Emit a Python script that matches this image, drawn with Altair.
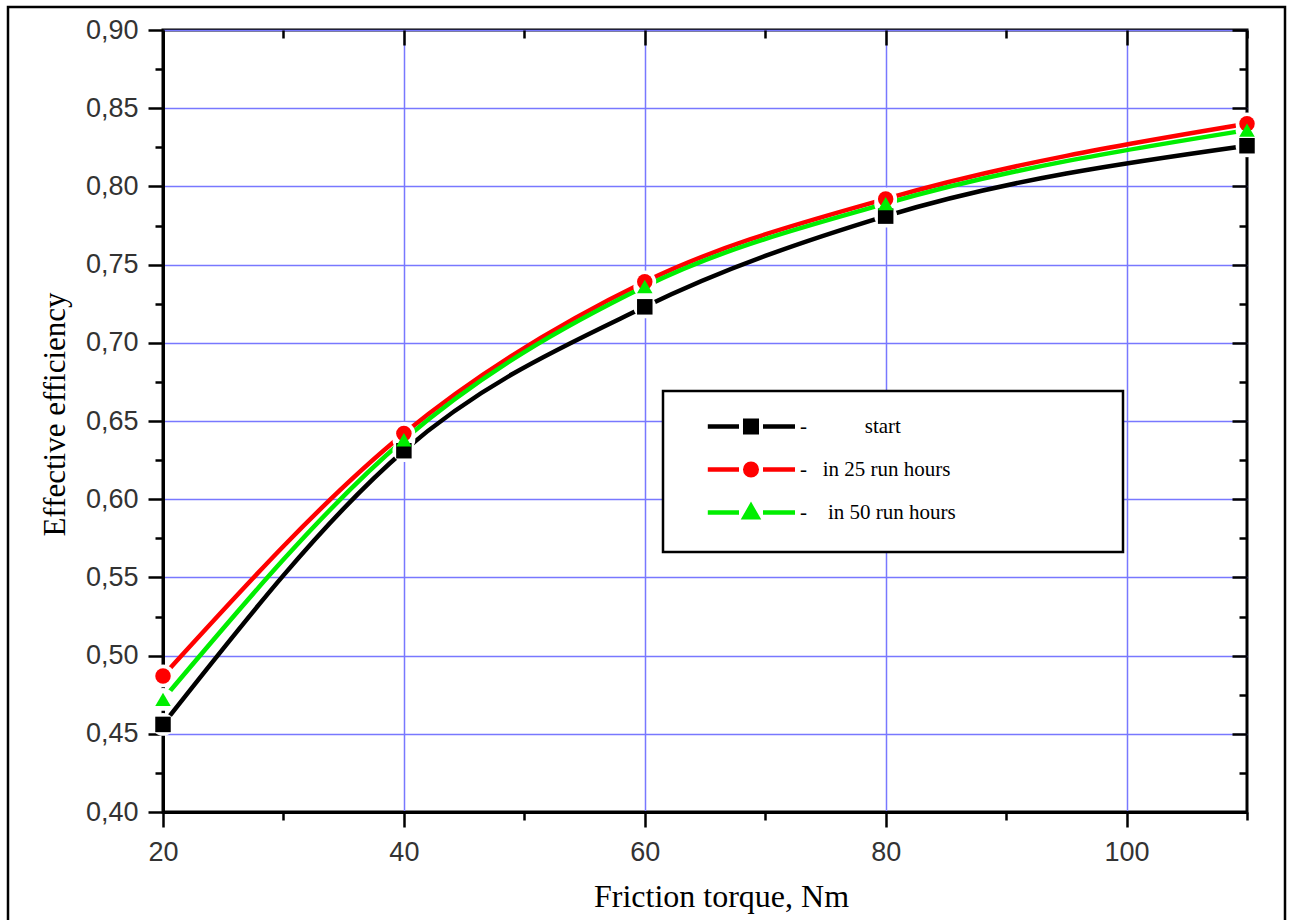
import altair as alt
import pandas as pd

# Measured effective efficiency vs. friction torque for three run-in states
torque = [20, 40, 60, 80, 110]
eff_start = [0.456, 0.631, 0.723, 0.781, 0.826]
eff_25h = [0.487, 0.642, 0.739, 0.792, 0.840]
eff_50h = [0.472, 0.638, 0.736, 0.789, 0.836]

series_names = ["start", "in 25 run hours", "in 50 run hours"]
series_colors = ["#000000", "#ff0000", "#00ee00"]
marker_shapes = ["square", "circle", "triangle-up"]

# Tick positions
x_major = [20, 40, 60, 80, 100]
x_minor = [30, 50, 70, 90, 110]
y_major = [0.40, 0.45, 0.50, 0.55, 0.60, 0.65, 0.70, 0.75, 0.80, 0.85, 0.90]
y_minor = [0.425, 0.475, 0.525, 0.575, 0.625, 0.675, 0.725, 0.775, 0.825, 0.875]

W, H = 1084, 782

rows = []
for name, col, shp, vals in zip(series_names, series_colors, marker_shapes,
                                [eff_start, eff_25h, eff_50h]):
    for t, v in zip(torque, vals):
        rows.append({"torque": t, "efficiency": v, "series": name,
                     "hex": col, "marker": shp})
df = pd.DataFrame(rows)

x_scale = alt.Scale(domain=[20, 110], nice=False, zero=False)
y_scale = alt.Scale(domain=[0.40, 0.90], nice=False, zero=False)

GRID = "#7878ff"
TICK = dict(tickColor="black", tickWidth=2.5)


def bare_axis(values, size, orient, offset=0):
    return alt.Axis(values=values, tickSize=size, labels=False, domain=False,
                    grid=False, title=None, orient=orient, offset=offset, **TICK)


x_main = alt.Axis(
    orient="bottom",
    values=x_major, tickSize=15, **TICK, domainColor="black", domainWidth=3,
    labelFont="Liberation Sans", labelFontSize=27, labelColor="#333333",
    labelPadding=12, format="d", labelFlush=False, labelOverlap=False,
    title="Friction torque, Nm", titleFont="Liberation Serif", titleFontSize=32,
    titleFontWeight="normal", titleColor="black", titlePadding=16,
    titleX=558, titleAlign="center",
    grid=True, gridColor=GRID, gridWidth=1.5,
)
y_main = alt.Axis(
    orient="left",
    values=y_major, tickSize=15, **TICK, domainColor="black", domainWidth=3,
    labelFont="Liberation Sans", labelFontSize=27, labelColor="#333333",
    labelPadding=10, labelFlush=False, labelOverlap=False,
    labelExpr="replace(format(datum.value, '.2f'), '.', ',')",
    title="Effective efficiency", titleFont="Liberation Serif", titleFontSize=31,
    titleFontWeight="normal", titleColor="black", titlePadding=14,
    titleY=384, titleAlign="center",
    grid=True, gridColor=GRID, gridWidth=1.5,
)

base = alt.Chart(df)


def axis_layer(x_axis, y_axis):
    return base.mark_point(opacity=0).encode(
        x=alt.X("torque:Q", scale=x_scale, axis=x_axis),
        y=alt.Y("efficiency:Q", scale=y_scale, axis=y_axis),
    )


# outward ticks on the bottom/left, inward ticks on the top/right frame edges
ax_main = axis_layer(x_main, y_main)
ax_minor = axis_layer(bare_axis(x_minor, 8, "bottom"), bare_axis(y_minor, 8, "left"))
ax_top_right = axis_layer(
    bare_axis(x_major, 15, "bottom", offset=-H),
    bare_axis(y_major, 15, "left", offset=-W),
)
ax_top_right_minor = axis_layer(
    bare_axis(x_minor, 8, "bottom", offset=-H),
    bare_axis(y_minor, 8, "left", offset=-W),
)

enc_xy = dict(
    x=alt.X("torque:Q", scale=x_scale, axis=None),
    y=alt.Y("efficiency:Q", scale=y_scale, axis=None),
)

lines = base.mark_line(interpolate="monotone", strokeWidth=4.5, strokeCap="round").encode(
    **enc_xy,
    color=alt.Color("hex:N", scale=None),
    detail="series:N",
)

# white halo leaves a small gap in the curves around each marker
halos = base.mark_circle(size=520, color="white", opacity=1).encode(**enc_xy)

markers = base.mark_point(filled=True, opacity=1, size=240).encode(
    **enc_xy,
    color=alt.Color("hex:N", scale=None),
    shape=alt.Shape("marker:N", scale=None),
)

# legend symbols: line - marker - line (marker body built from nested outlines)
seg = "M-5.4,0L-1.5,0M1.5,0L5.5,0"
legend_paths = [
    seg + "M-0.72,-0.72L0.72,-0.72L0.72,0.72L-0.72,0.72Z"
          "M-0.22,-0.22L0.22,-0.22L0.22,0.22L-0.22,0.22Z",
    seg + "M0.72,0A0.72,0.72,0,1,1,-0.72,0A0.72,0.72,0,1,1,0.72,0Z"
          "M0.28,0A0.28,0.28,0,1,1,-0.28,0A0.28,0.28,0,1,1,0.28,0Z",
    seg + "M0,-0.8L0.8,0.6L-0.8,0.6Z"
          "M0,-0.25L0.25,0.2L-0.25,0.2Z",
]

NB = "\u00a0"
END = NB * 27 + "\u200b"
label_start = "-" + NB * 11 + "start" + END
label_25 = "-" + NB * 3 + "in 25 run hours" + END
label_50 = "-" + NB * 4 + "in 50 run hours" + END
label_expr = (
    f"datum.label == 'start' ? '{label_start}' : "
    f"datum.label == 'in 25 run hours' ? '{label_25}' : '{label_50}'"
)

legend = alt.Legend(
    orient="none", legendX=500, legendY=361, title=None,
    padding=25, strokeColor="black", fillColor="white",
    symbolSize=256, symbolStrokeWidth=4.5, symbolOffset=52.5,
    labelOffset=38.5, labelFont="Liberation Serif", labelFontSize=21,
    labelColor="black", labelLimit=1000, rowPadding=12,
    labelExpr=label_expr,
)

legend_layer = base.mark_point(filled=False).transform_filter("false").encode(
    color=alt.Color("series:N", scale=alt.Scale(domain=series_names, range=series_colors), legend=legend),
    shape=alt.Shape("series:N", scale=alt.Scale(domain=series_names, range=legend_paths), legend=legend),
)

# outer border of the figure
frame = alt.Chart(pd.DataFrame({"k": [0]})).mark_rect(
    fillOpacity=0, stroke="black", strokeWidth=2.5
).encode(
    x=alt.value(-155), x2=alt.value(1122), y=alt.value(-23), y2=alt.value(905)
)

chart = (
    alt.layer(ax_main, ax_minor, ax_top_right, ax_top_right_minor,
              lines, halos, markers, legend_layer, frame)
    .resolve_axis(x="independent", y="independent")
    .properties(
        width=W, height=H,
        autosize=alt.AutoSizeParams(type="none"),
        padding={"left": 163, "top": 30, "right": 45, "bottom": 108},
        background="white",
    )
    .configure_view(stroke="black", strokeWidth=3)
    .configure_legend(strokeWidth=2.5)
)

chart.save("out.html", embed_options={"renderer": "svg", "actions": False})
